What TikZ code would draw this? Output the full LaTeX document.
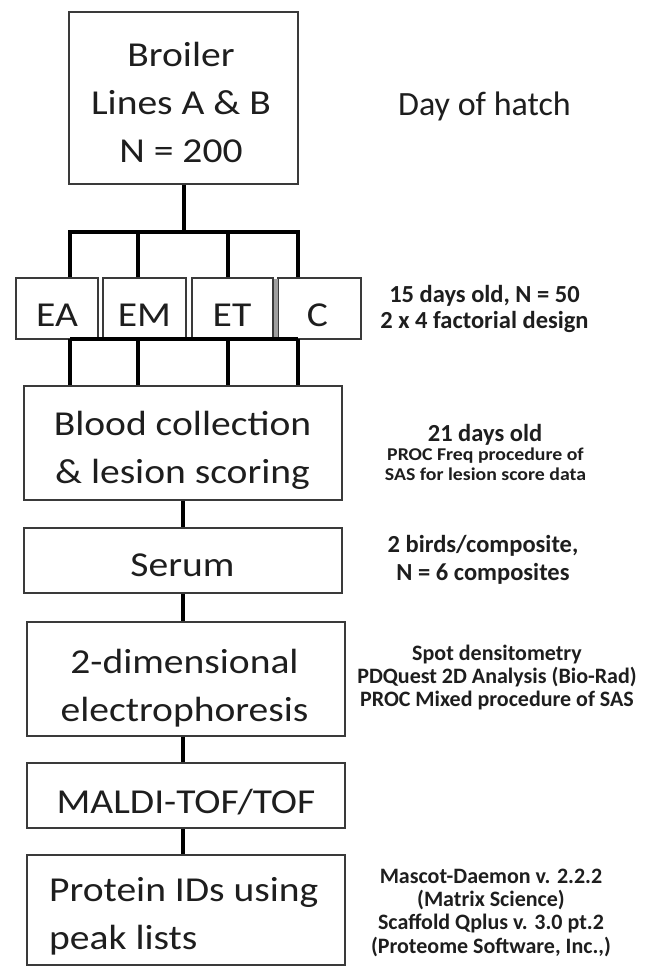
\documentclass[tikz,border=0pt]{standalone}
\usepackage{fontspec}
\setmainfont{Carlito}
\newfontfamily\boxfont{Carlito}[FakeStretch=1.13]
\newfontfamily\sidefont{Carlito}
\newfontfamily\sidewide{Carlito}[FakeStretch=1.1]
\definecolor{boxline}{HTML}{3A3A3A}
\definecolor{ink}{HTML}{1E1E1E}
\begin{document}
\begin{tikzpicture}[x=1pt,y=-1pt,
  box/.style={draw=boxline,line width=1.8pt,fill=white,inner sep=0pt,rectangle},
  conn/.style={line width=4pt,draw=black,line join=miter},
  boxtxt/.style={font=\boxfont\fontsize{35}{48}\selectfont,text=ink,inner sep=0pt,align=center},
  sidebig/.style={font=\sidefont\bfseries\fontsize{24.5}{26}\selectfont,text=ink,inner sep=0pt,align=center},
  sidemid/.style={font=\sidefont\bfseries\fontsize{22}{23.2}\selectfont,text=ink,inner sep=0pt,align=center},
  sidesmall/.style={font=\sidewide\bfseries\fontsize{18}{20}\selectfont,text=ink,inner sep=0pt,align=center}
]
\useasboundingbox (0,0) rectangle (650,967);
\fill[white] (0,0) rectangle (650,967);

% boxes
\node[box,minimum width=229pt,minimum height=172pt] (broiler) at (183.5,98) {};
\node[box,minimum width=82pt,minimum height=61pt] (EA) at (57,308.5) {};
\node[box,minimum width=83pt,minimum height=61pt] (EM) at (144.5,308.5) {};
\node[box,minimum width=81pt,minimum height=61pt] (ET) at (232.5,308.5) {};
\node[box,minimum width=83pt,minimum height=61pt] (C) at (319.5,308.5) {};
\fill[gray!75] (273.5,279) rectangle (278,338);
\node[box,minimum width=318pt,minimum height=114pt] (blood) at (183,443) {};
\node[box,minimum width=318pt,minimum height=65pt] (serum) at (183,560.5) {};
\node[box,minimum width=318pt,minimum height=114pt] (twod) at (186,679) {};
\node[box,minimum width=318pt,minimum height=65pt] (maldi) at (186,795.5) {};
\node[box,minimum width=318pt,minimum height=110pt] (protein) at (186,910) {};

% box texts
\node[boxtxt] (broilerT) at (181,102.3) {Broiler\\Lines A \& B\\N = 200};
\node[boxtxt,anchor=base] (EAT) at (57,326) {EA};
\node[boxtxt,anchor=base] (EMT) at (144.5,326) {EM};
\node[boxtxt,anchor=base] (ETT) at (232,326) {ET};
\node[boxtxt,anchor=base] (CT) at (317.5,326) {C};
\node[boxtxt] (bloodT) at (182.5,450.3) {Blood collection\\\& lesion scoring};
\node[boxtxt,anchor=base] (serumT) at (182.5,576) {Serum};
\node[boxtxt] (twodT) at (184.5,688.3) {2-dimensional\\electrophoresis};
\node[boxtxt,anchor=base] (maldiT) at (186,813) {MALDI-TOF/TOF};
\node[boxtxt,align=left,anchor=west] (proteinT) at (49,916) {Protein IDs using\\peak lists};

% side texts
\node[font=\sidefont\fontsize{34}{40}\selectfont,text=ink,inner sep=0pt,anchor=base] (hatch) at (484.5,115) {Day of hatch};
\node[sidebig] (fifteen) at (484.5,308.9) {15 days old, N = 50\\2 x 4 factorial design};
\node[sidebig,anchor=base] (twentyone) at (485,441) {21 days old};
\node[sidesmall] (procfreq) at (485.5,464.5) {PROC Freq procedure of\\SAS for lesion score data};
\node[sidebig,font=\sidefont\bfseries\fontsize{24.5}{28}\selectfont] (birds) at (483,559.9) {2 birds/composite,\\N = 6 composites};
\node[sidemid] (spot) at (497,677.5) {Spot densitometry\\PDQuest 2D Analysis (Bio-Rad)\\PROC Mixed procedure of SAS};
\node[sidemid] (mascot) at (491,912.7) {Mascot-Daemon v. 2.2.2\\(Matrix Science)\\Scaffold Qplus v. 3.0 pt.2\\(Proteome Software, Inc.,)};

% connectors: top split
\coordinate (topbus) at (183.5,232);
\coordinate (ta) at (70,232);
\coordinate (tb) at (138,232);
\coordinate (tc) at (228,232);
\coordinate (td) at (298,232);
\draw[conn] (broiler.south) -- (topbus);
\draw[conn] (ta |- EA.north) -- (ta) -- (td) -- (td |- C.north);
\draw[conn] (tb) -- (tb |- EM.north);
\draw[conn] (tc) -- (tc |- ET.north);

% connectors: merge
\coordinate (ba) at (70,339);
\coordinate (bb) at (138,339);
\coordinate (bc) at (228,339);
\coordinate (bd) at (298,339);
\draw[conn] (ba) -- (bd);
\draw[conn] (ba) -- (ba |- blood.north);
\draw[conn] (bb) -- (bb |- blood.north);
\draw[conn] (bc) -- (bc |- blood.north);
\draw[conn] (bd) -- (bd |- blood.north);

% main axis
\coordinate (axis) at (183,0);
\draw[conn] (axis |- blood.south) -- (axis |- serum.north);
\draw[conn] (axis |- serum.south) -- (axis |- twod.north);
\draw[conn] (axis |- twod.south) -- (axis |- maldi.north);
\draw[conn] (axis |- maldi.south) -- (axis |- protein.north);
\end{tikzpicture}
\end{document}
